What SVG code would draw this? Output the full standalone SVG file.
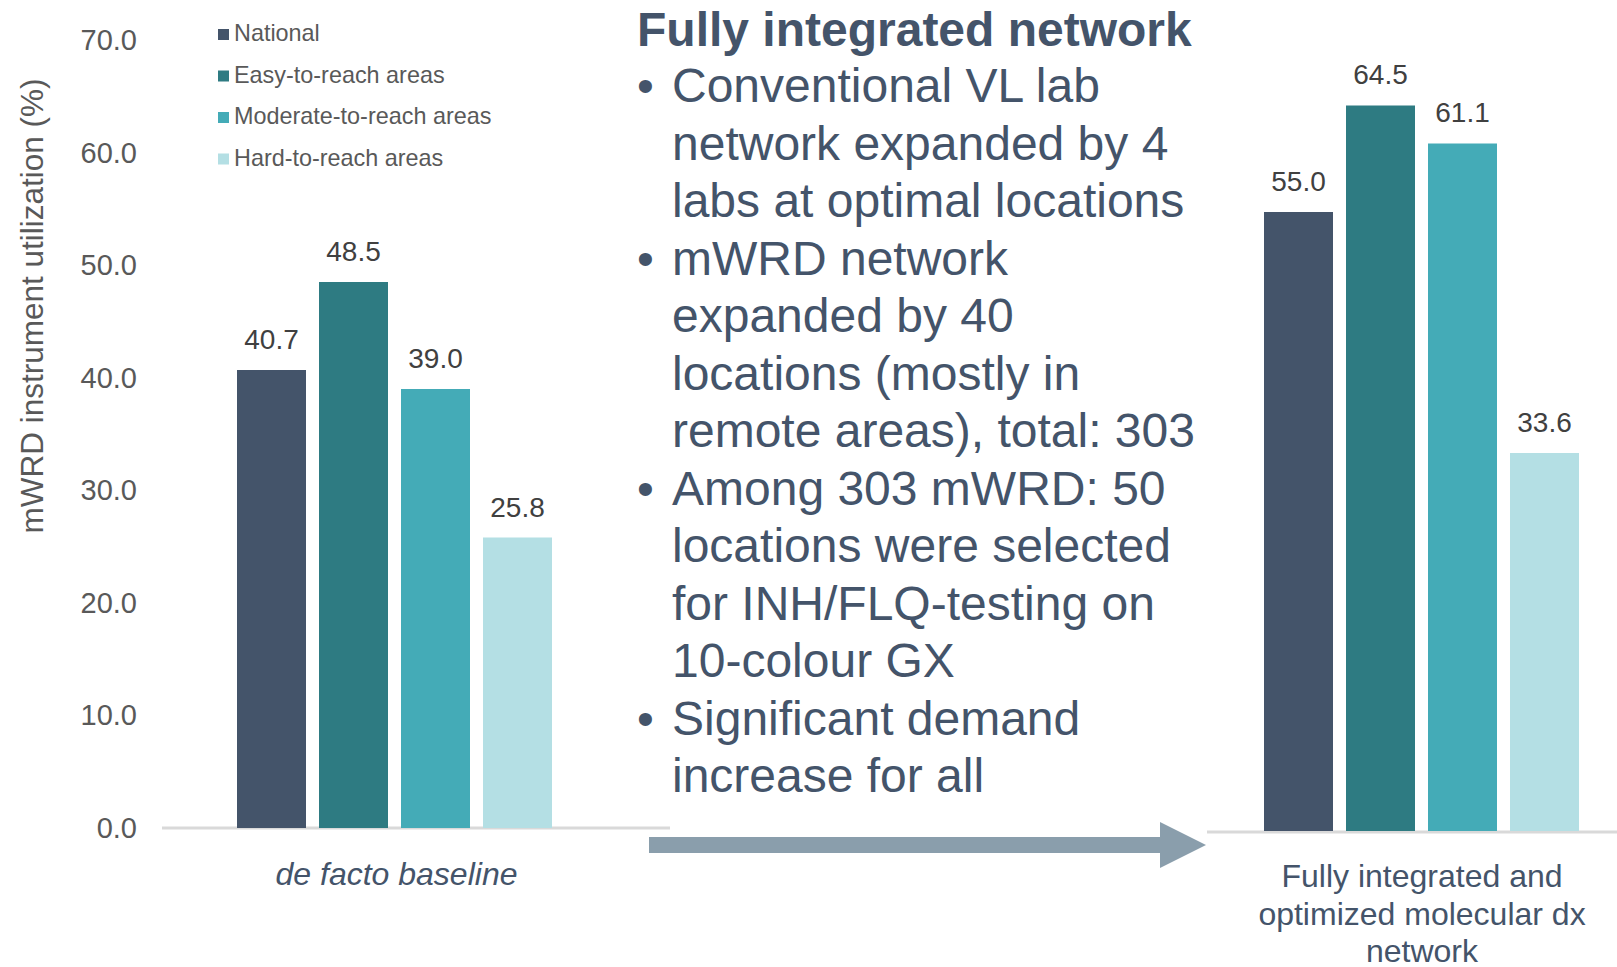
<svg xmlns="http://www.w3.org/2000/svg" width="1617" height="967" viewBox="0 0 1617 967">
<style>
text{font-family:"Liberation Sans",Arial,sans-serif}
.tick{font-size:29px;fill:#595959;text-anchor:end}
.val{font-size:28px;fill:#404040;text-anchor:middle}
.leg{font-size:23.4px;fill:#595959}
.cat{font-size:32px;fill:#44546a;text-anchor:middle}
.body{font-size:48px;fill:#44546a}
.title{font-size:48px;font-weight:bold;fill:#44546a}
.axis{stroke:#d9d9d9;stroke-width:3}
.s1{fill:#44546a}.s2{fill:#2e7b82}.s3{fill:#44abb7}.s4{fill:#b4dfe4}
</style>
<rect width="1617" height="967" fill="#ffffff"/>
<g id="y-axis">
<text class="tick" x="137" y="50">70.0</text>
<text class="tick" x="137" y="163">60.0</text>
<text class="tick" x="137" y="275">50.0</text>
<text class="tick" x="137" y="388">40.0</text>
<text class="tick" x="137" y="500">30.0</text>
<text class="tick" x="137" y="613">20.0</text>
<text class="tick" x="137" y="725">10.0</text>
<text class="tick" x="137" y="838">0.0</text>
<text transform="translate(43,306) rotate(-90)" text-anchor="middle" font-size="31.5" fill="#595959">mWRD instrument utilization (%)</text>
</g>
<g id="legend">
<rect class="s1" x="218" y="29" width="11" height="11"/><text class="leg" x="234" y="41">National</text>
<rect class="s2" x="218" y="70.5" width="11" height="11"/><text class="leg" x="234" y="82.5">Easy-to-reach areas</text>
<rect class="s3" x="218" y="112" width="11" height="11"/><text class="leg" x="234" y="124">Moderate-to-reach areas</text>
<rect class="s4" x="218" y="153.5" width="11" height="11"/><text class="leg" x="234" y="165.5">Hard-to-reach areas</text>
</g>
<g id="chart-baseline">
<line class="axis" x1="162" y1="828" x2="670" y2="828"/>
<rect class="s1" x="237" y="370" width="69" height="458"/>
<rect class="s2" x="319" y="282" width="69" height="546"/>
<rect class="s3" x="401" y="389" width="69" height="439"/>
<rect class="s4" x="483" y="537.5" width="69" height="290.5"/>
<text class="val" x="271.5" y="349">40.7</text>
<text class="val" x="353.5" y="261">48.5</text>
<text class="val" x="435.5" y="368">39.0</text>
<text class="val" x="517.5" y="517">25.8</text>
<text class="cat" x="396.5" y="885" font-style="italic">de facto baseline</text>
</g>
<g id="chart-integrated">
<line class="axis" x1="1207" y1="832" x2="1617" y2="832"/>
<rect class="s1" x="1264" y="212" width="69" height="619"/>
<rect class="s2" x="1346" y="105.5" width="69" height="725.5"/>
<rect class="s3" x="1428" y="143.5" width="69" height="687.5"/>
<rect class="s4" x="1510" y="453" width="69" height="378"/>
<text class="val" x="1298.5" y="191">55.0</text>
<text class="val" x="1380.5" y="84">64.5</text>
<text class="val" x="1462.5" y="122">61.1</text>
<text class="val" x="1544.5" y="432">33.6</text>
<text class="cat" x="1422" y="887">Fully integrated and</text>
<text class="cat" x="1422" y="925">optimized molecular dx</text>
<text class="cat" x="1422" y="962">network</text>
</g>
<g id="textblock">
<text class="title" x="637" y="46">Fully integrated network</text>
<text class="body" x="637" y="102">•</text>
<text class="body" x="672" y="102">Conventional VL lab</text>
<text class="body" x="672" y="159.5">network expanded by 4</text>
<text class="body" x="672" y="217">labs at optimal locations</text>
<text class="body" x="637" y="274.5">•</text>
<text class="body" x="672" y="274.5">mWRD network</text>
<text class="body" x="672" y="332">expanded by 40</text>
<text class="body" x="672" y="389.5">locations (mostly in</text>
<text class="body" x="672" y="447">remote areas), total: 303</text>
<text class="body" x="637" y="504.5">•</text>
<text class="body" x="672" y="504.5">Among 303 mWRD: 50</text>
<text class="body" x="672" y="562">locations were selected</text>
<text class="body" x="672" y="619.5">for INH/FLQ-testing on</text>
<text class="body" x="672" y="677">10-colour GX</text>
<text class="body" x="637" y="734.5">•</text>
<text class="body" x="672" y="734.5">Significant demand</text>
<text class="body" x="672" y="792">increase for all</text>
</g>
<g id="connectors">
<polygon points="649,837 1160,837 1160,822 1206,845 1160,868 1160,853 649,853" fill="#8a9eac"/>
</g>
</svg>
